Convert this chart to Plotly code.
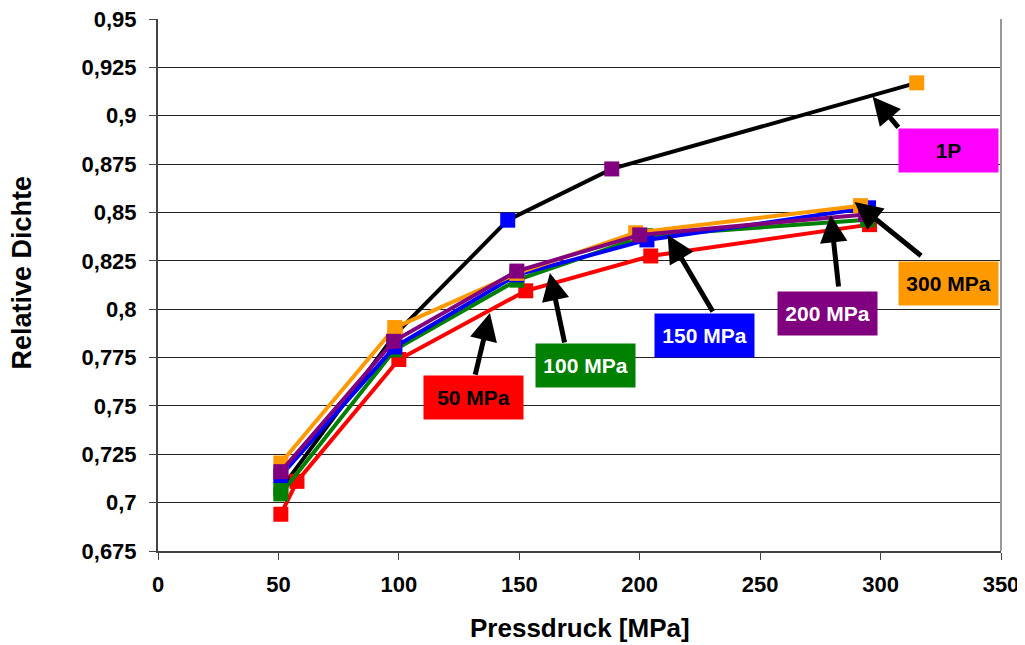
import plotly.graph_objects as go

# Messreihen (Pressdruck in MPa, relative Dichte)
x_50 = [51, 57.7, 100, 152.7, 204.6, 295.4]
y_50 = [0.694, 0.711, 0.774, 0.8095, 0.8275, 0.8437]

x_100 = [51, 98.3, 149, 202.5, 294.6]
y_100 = [0.7045, 0.779, 0.815, 0.838, 0.8462]

x_150 = [51, 98.3, 149, 203, 295]
y_150 = [0.714, 0.7805, 0.8177, 0.8358, 0.8524]

x_200 = [51, 97.8, 149, 200, 293.8]
y_200 = [0.716, 0.7834, 0.8197, 0.8384, 0.849]

x_300 = [51, 98.3, 149, 198.3, 291.7]
y_300 = [0.7205, 0.7905, 0.8185, 0.8395, 0.8535]

x_1p = [51, 98.5, 145.2, 188.4, 315]
y_1p = [0.707, 0.787, 0.846, 0.8725, 0.917]
c_1p = ["#008000", "#FF9900", "#0000FF", "#800080", "#FF9900"]

y_ticks = [0.675, 0.7, 0.725, 0.75, 0.775, 0.8, 0.825, 0.85, 0.875, 0.9, 0.925, 0.95]
x_ticks = [0, 50, 100, 150, 200, 250, 300, 350]

fig = go.Figure()

fig.add_trace(go.Scatter(x=x_1p, y=y_1p, mode="lines+markers",
                         line=dict(color="black", width=4),
                         marker=dict(symbol="square", size=15, color=c_1p)))

serien = [
    (x_50, y_50, "#FF0000"),
    (x_100, y_100, "#008000"),
    (x_150, y_150, "#0000FF"),
    (x_300, y_300, "#FF9900"),
    (x_200, y_200, "#800080"),
]
for xs, ys, farbe in serien:
    fig.add_trace(go.Scatter(x=xs, y=ys, mode="lines+markers",
                             line=dict(color=farbe, width=4),
                             marker=dict(symbol="square", size=15, color=farbe)))

# Beschriftungen: (Text, Box-x, Box-y, Boxfarbe, Schriftfarbe, Pfeilspitze x, y, ax, ay)
labels = [
    ("1P", 328, 0.8821, "#FF00FF", "black", 296.7, 0.9098, 27, 32),
    ("300 MPa", 328.4, 0.8133, "#FF9900", "black", 289.2, 0.8554, 68, 55),
    ("200 MPa", 278, 0.798, "#800080", "white", 279.3, 0.8487, 8, 73),
    ("150 MPa", 227, 0.7866, "#0000FF", "white", 211.6, 0.8384, 46, 78),
    ("100 MPa", 177.6, 0.7708, "#008000", "white", 162.7, 0.8187, 15, 71),
    ("50 MPa", 131, 0.7542, "#FF0000", "black", 137.8, 0.798, -15, 63),
]
for txt, bx, by, bg, fc, hx, hy, ax, ay in labels:
    fig.add_annotation(x=hx, y=hy, ax=ax, ay=ay, text="", showarrow=True,
                       arrowhead=2, arrowsize=1.1, arrowwidth=5, arrowcolor="black")
    fig.add_annotation(x=bx, y=by, text="<b>" + txt + "</b>", showarrow=False,
                       bgcolor=bg, width=99, height=43, borderpad=0,
                       font=dict(family="Liberation Sans", size=21, color=fc))

# Achsentitel
fig.add_annotation(xref="paper", yref="paper", x=0.5, y=-0.1447, showarrow=False,
                   text="<b>Pressdruck [MPa]</b>", font=dict(size=26), yanchor="middle")
fig.add_annotation(xref="paper", yref="paper", x=-0.161, y=0.524, showarrow=False,
                   text="<b>Relative Dichte</b>", font=dict(size=27), textangle=-90,
                   xanchor="center", yanchor="middle")

fig.add_shape(type="line", xref="paper", yref="paper", x0=1, x1=1, y0=0, y1=1,
              line=dict(color="#999999", width=2))

# die Seite hat 8px Rand, daher 1017x637
fig.update_layout(
    width=1017, height=637,
    margin=dict(l=150, r=24, t=11, b=94),
    plot_bgcolor="white", paper_bgcolor="white",
    showlegend=False,
    font=dict(family="Liberation Sans", color="black"),
    xaxis=dict(range=[0, 350], tickvals=x_ticks, ticks="outside", ticklen=7,
               showgrid=False, showline=True, linecolor="#444444", linewidth=2,
               automargin=False, ticklabelstandoff=6, ticklabeloverflow="allow",
               tickfont=dict(size=22, weight="bold")),
    yaxis=dict(range=[0.675, 0.95], tickvals=y_ticks,
               ticktext=[("%g" % v).replace(".", ",") for v in y_ticks],
               ticks="outside", ticklen=7, showgrid=True, gridcolor="#222222", gridwidth=1,
               showline=True, linecolor="#444444", linewidth=2,
               automargin=False, ticklabelstandoff=8, ticklabeloverflow="allow",
               tickfont=dict(size=22, weight="bold")),
)

fig.write_html("out.html")
